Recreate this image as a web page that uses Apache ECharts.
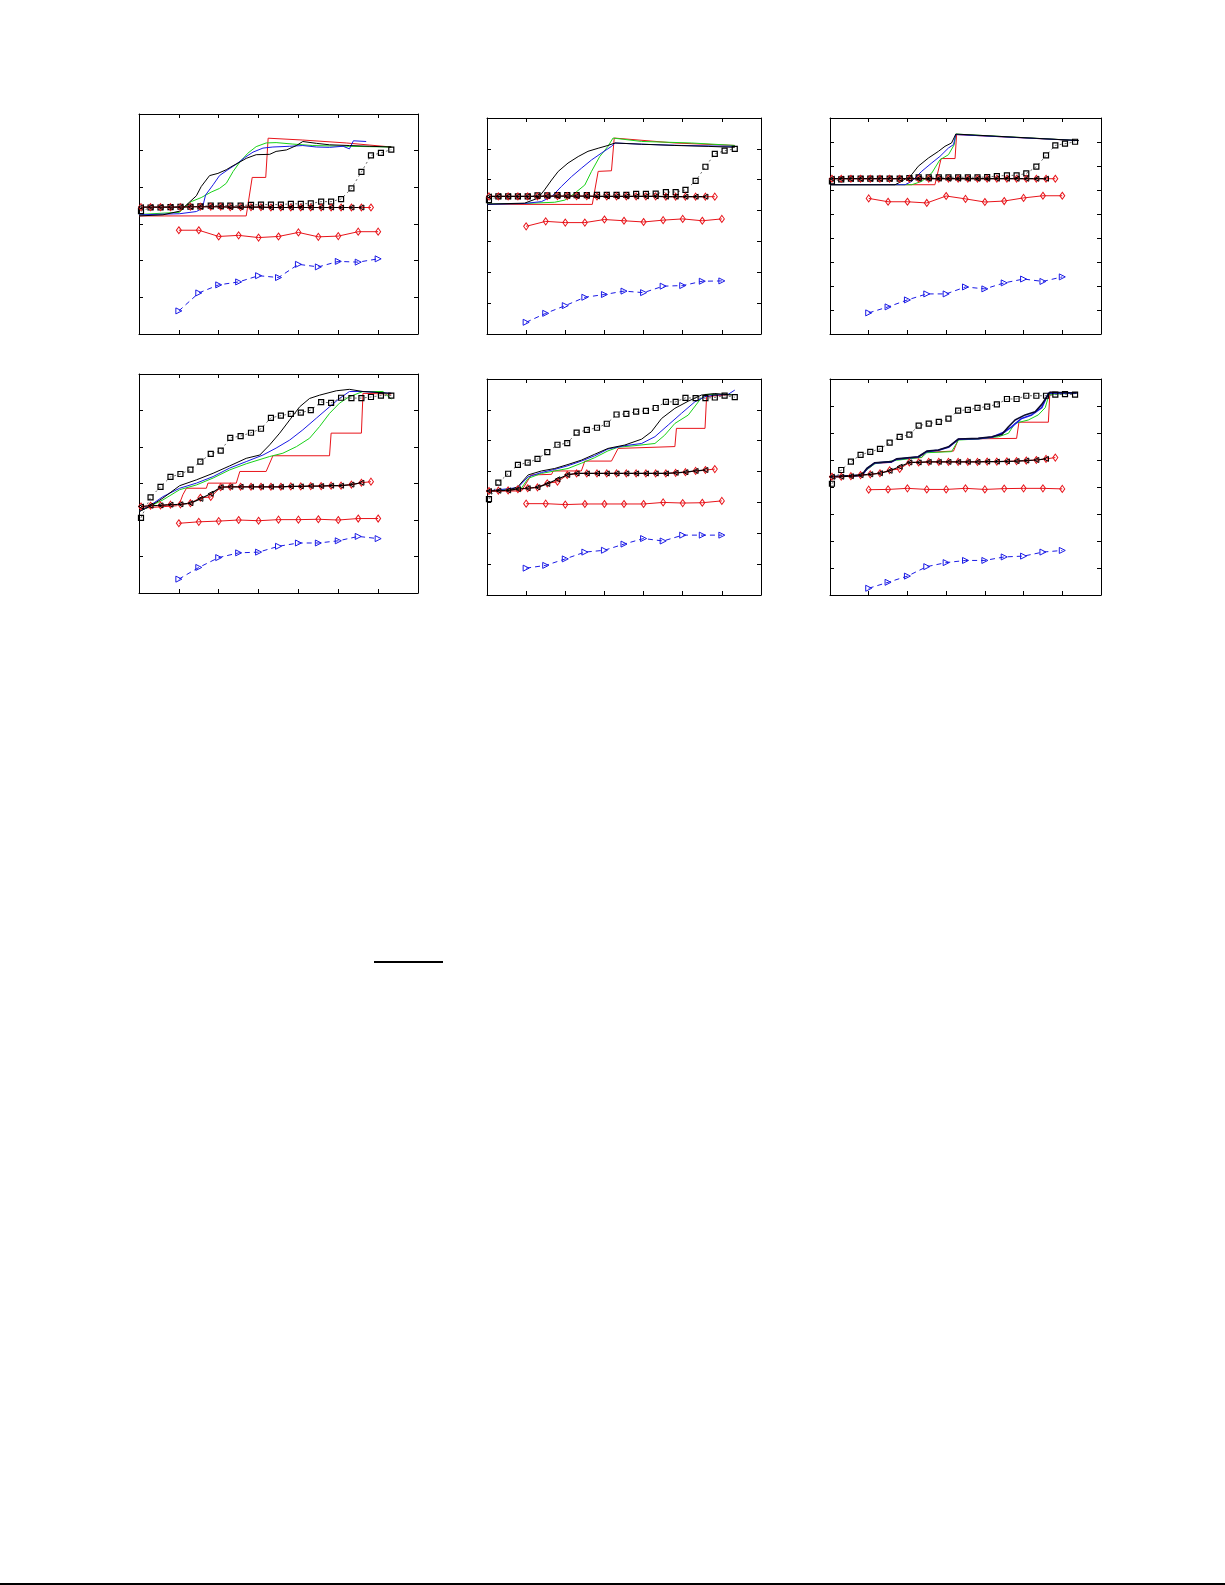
<!DOCTYPE html>
<html>
<head>
<meta charset="utf-8">
<script src="https://cdn.jsdelivr.net/npm/echarts@6/dist/echarts.min.js"></script>
<style>
html,body{margin:0;padding:0;background:#fff;}
#chart{width:1225px;height:1585px;}
</style>
</head>
<body>
<div id="chart"></div>
<script>
// ---------- shared x positions ----------
const halfX = [1, 1.5, 2, 2.5, 3, 3.5, 4, 4.5, 5, 5.5, 6];
const markerX = [0.05, 0.29, 0.54, 0.79, 1.04, 1.29, 1.54, 1.8, 2.05, 2.29, 2.55, 2.81, 3.06, 3.31, 3.56, 3.81, 4.06, 4.31, 4.57, 4.82, 5.07, 5.33, 5.58, 5.82, 6.07, 6.33];
const yMax = [6, 7, 9, 6, 7, 8];

// ---------- panel 1 ----------
const p1BlueTri = [0.63, 1.12, 1.34, 1.42, 1.59, 1.54, 1.90, 1.83, 1.98, 1.96, 2.05];
const p1RedDiaLow = [2.83, 2.83, 2.66, 2.69, 2.63, 2.66, 2.77, 2.65, 2.67, 2.79, 2.79];
const p1RedDiaUp = [3.46, 3.46, 3.46, 3.46, 3.46, 3.47, 3.47, 3.47, 3.47, 3.46, 3.46, 3.46, 3.46, 3.45, 3.45, 3.45, 3.45, 3.45, 3.45, 3.45, 3.45, 3.45, 3.45, 3.45];
const p1BlackTri = [3.46, 3.46, 3.46, 3.46, 3.46, 3.47, 3.47, 3.47, 3.47, 3.46, 3.46, 3.46, 3.46, 3.45, 3.45, 3.45, 3.45, 3.45, 3.45, 3.45, 3.45, 3.45, 3.45];
const p1Squares = [3.35, 3.45, 3.45, 3.46, 3.47, 3.47, 3.48, 3.50, 3.50, 3.50, 3.50, 3.52, 3.53, 3.53, 3.53, 3.55, 3.55, 3.56, 3.61, 3.61, 3.68, 3.97, 4.42, 4.87, 4.94, 5.03];
const p1Black = [[0,3.22],[0.6,3.25],[1.02,3.35],[1.23,3.56],[1.44,3.77],[1.56,4.02],[1.77,4.32],[1.98,4.38],[2.19,4.48],[2.36,4.59],[2.53,4.69],[2.69,4.79],[2.94,4.89],[3.28,4.90],[3.44,4.98],[3.70,5.02],[3.95,5.14],[4.11,5.25],[4.45,5.20],[4.78,5.16],[5.28,5.14],[5.79,5.12],[6.33,5.10]];
const p1Blue = [[0,3.25],[1.02,3.28],[1.44,3.34],[1.59,3.43],[1.67,3.79],[1.86,4.07],[2.02,4.32],[2.23,4.48],[2.44,4.63],[2.65,4.81],[2.86,4.96],[3.11,5.07],[3.36,5.10],[3.78,5.12],[4.11,5.14],[4.45,5.10],[4.78,5.09],[5.12,5.12],[5.28,5.05],[5.38,5.27],[5.70,5.25]];
const p1Green = [[0,3.26],[1.02,3.32],[1.15,3.47],[1.31,3.61],[1.56,3.72],[1.81,3.87],[2.02,3.97],[2.19,4.11],[2.36,4.43],[2.53,4.69],[2.73,4.93],[2.94,5.11],[3.19,5.21],[3.44,5.22],[3.86,5.18],[4.36,5.14],[5.20,5.12],[6.33,5.10]];
const p1Red = [[0,3.22],[2.69,3.22],[2.84,4.27],[3.18,4.27],[3.24,5.34],[4.11,5.29],[5.20,5.21],[6.33,5.10]];

// ---------- panel 2 ----------
const p2BlueTri = [0.38, 0.67, 0.92, 1.19, 1.28, 1.39, 1.34, 1.55, 1.57, 1.71, 1.72];
const p2RedDiaLow = [3.49, 3.65, 3.61, 3.61, 3.71, 3.67, 3.63, 3.69, 3.73, 3.67, 3.73];
const p2RedDiaUp = [4.46, 4.46, 4.46, 4.46, 4.46, 4.46, 4.47, 4.47, 4.47, 4.47, 4.47, 4.46, 4.46, 4.46, 4.46, 4.46, 4.46, 4.46, 4.45, 4.45, 4.45, 4.45, 4.45, 4.45];
const p2BlackTri = [4.46, 4.46, 4.46, 4.46, 4.46, 4.46, 4.47, 4.47, 4.47, 4.47, 4.47, 4.46, 4.46, 4.46, 4.46, 4.46, 4.46, 4.46, 4.45, 4.45, 4.45, 4.45, 4.45];
const p2Squares = [4.34, 4.46, 4.46, 4.46, 4.46, 4.49, 4.49, 4.50, 4.50, 4.50, 4.50, 4.51, 4.51, 4.51, 4.51, 4.54, 4.54, 4.55, 4.60, 4.60, 4.67, 4.96, 5.42, 5.84, 5.94, 6.00];
const p2Black = [[0,4.21],[0.96,4.24],[1.30,4.40],[1.47,4.67],[1.65,4.99],[1.82,5.27],[2.07,5.54],[2.33,5.75],[2.58,5.92],[2.84,6.02],[3.09,6.11],[3.27,6.19],[3.95,6.15],[4.80,6.11],[5.65,6.08],[6.33,6.05]];
const p2Blue = [[0,4.20],[0.96,4.23],[1.39,4.29],[1.65,4.45],[1.90,4.78],[2.16,5.10],[2.41,5.37],[2.67,5.64],[2.92,5.86],[3.18,6.08],[3.27,6.19],[3.95,6.15],[4.97,6.11],[6.33,6.08]];
const p2Green = [[0,4.21],[0.96,4.23],[1.73,4.27],[1.99,4.34],[2.24,4.56],[2.50,4.83],[2.67,5.27],[2.88,5.75],[3.09,6.08],[3.22,6.35],[3.95,6.24],[5.23,6.19],[6.33,6.11]];
const p2Red = [[0,4.20],[2.69,4.20],[2.84,5.27],[3.18,5.29],[3.25,6.35],[4.80,6.19],[6.33,6.11]];

// ---------- panel 3 ----------
const p3BlueTri = [0.88, 1.13, 1.42, 1.67, 1.67, 1.96, 1.88, 2.13, 2.29, 2.19, 2.38];
const p3RedDiaLow = [5.65, 5.51, 5.51, 5.46, 5.75, 5.63, 5.50, 5.54, 5.67, 5.76, 5.76];
const p3RedDiaUp = [6.47, 6.47, 6.47, 6.47, 6.47, 6.47, 6.47, 6.47, 6.47, 6.47, 6.47, 6.47, 6.47, 6.47, 6.47, 6.47, 6.47, 6.47, 6.47, 6.47, 6.47, 6.47, 6.47, 6.47];
const p3BlackTri = [6.47, 6.47, 6.47, 6.47, 6.47, 6.47, 6.47, 6.47, 6.47, 6.47, 6.47, 6.47, 6.47, 6.47, 6.47, 6.47, 6.47, 6.47, 6.47, 6.47, 6.47, 6.47, 6.47];
const p3Squares = [6.36, 6.44, 6.47, 6.47, 6.47, 6.47, 6.47, 6.47, 6.50, 6.53, 6.53, 6.53, 6.53, 6.53, 6.53, 6.53, 6.54, 6.58, 6.61, 6.61, 6.69, 6.97, 7.44, 7.86, 7.93, 8.01];
const p3Black = [[0,6.22],[1.68,6.22],[1.85,6.36],[2.11,6.64],[2.28,6.99],[2.54,7.33],[2.80,7.61],[2.97,7.82],[3.14,7.96],[3.25,8.33],[6.42,8.06]];
const p3Blue = [[0,6.22],[1.94,6.22],[2.11,6.36],[2.37,6.78],[2.63,7.13],[2.84,7.40],[3.06,7.75],[3.19,7.89],[3.25,8.31],[6.42,8.06]];
const p3Green = [[0,6.22],[2.11,6.22],[2.37,6.36],[2.63,6.71],[2.84,7.26],[3.06,7.47],[3.21,7.89],[3.25,8.33],[6.42,8.06]];
const p3Red = [[0,6.22],[2.71,6.22],[2.87,7.31],[3.23,7.31],[3.27,8.31],[6.42,8.06]];

// ---------- panel 4 ----------
const p4BlueTri = [0.38, 0.70, 0.97, 1.10, 1.12, 1.28, 1.37, 1.37, 1.43, 1.55, 1.49];
const p4RedDiaLow = [1.91, 1.95, 1.97, 2.00, 1.98, 2.01, 2.01, 2.02, 2.00, 2.04, 2.04];
const p4RedDiaUp = [2.37, 2.39, 2.40, 2.42, 2.43, 2.46, 2.61, 2.63, 2.90, 2.91, 2.91, 2.91, 2.91, 2.91, 2.91, 2.92, 2.92, 2.93, 2.93, 2.94, 2.94, 2.97, 3.02, 3.05];
const p4BlackTri = [2.37, 2.39, 2.40, 2.42, 2.43, 2.46, 2.58, 2.72, 2.90, 2.91, 2.91, 2.91, 2.91, 2.91, 2.91, 2.92, 2.92, 2.93, 2.93, 2.94, 2.94, 2.97, 3.02];
const p4Squares = [2.06, 2.62, 2.91, 3.18, 3.26, 3.38, 3.60, 3.81, 3.90, 4.25, 4.30, 4.39, 4.50, 4.80, 4.86, 4.91, 4.94, 5.01, 5.23, 5.21, 5.35, 5.34, 5.34, 5.37, 5.41, 5.41];
const p4Black = [[0,2.23],[0.27,2.37],[0.60,2.60],[1.02,2.94],[1.44,3.10],[1.86,3.28],[2.27,3.48],[2.69,3.69],[3.03,3.78],[3.28,4.06],[3.53,4.38],[3.78,4.74],[4.03,5.10],[4.28,5.33],[4.53,5.42],[4.95,5.54],[5.28,5.58],[5.62,5.52],[6.33,5.47]];
const p4Blue = [[0,2.23],[0.27,2.39],[0.60,2.64],[1.02,2.87],[1.44,3.01],[1.86,3.19],[2.27,3.42],[2.69,3.60],[3.11,3.78],[3.44,3.97],[3.78,4.19],[4.11,4.47],[4.45,4.79],[4.78,5.10],[5.03,5.33],[5.28,5.52],[5.62,5.52],[6.33,5.47]];
const p4Green = [[0,2.23],[0.27,2.37],[0.60,2.55],[1.02,2.83],[1.44,2.96],[1.86,3.15],[2.27,3.37],[2.69,3.54],[3.28,3.74],[3.61,3.83],[3.95,4.01],[4.28,4.24],[4.53,4.56],[4.78,4.92],[5.03,5.20],[5.28,5.38],[5.62,5.52],[6.12,5.52],[6.33,5.31]];
const p4Red = [[0,2.32],[0.94,2.39],[1.02,2.46],[1.10,2.69],[1.19,2.87],[1.69,2.87],[1.73,3.01],[2.44,3.01],[2.53,3.33],[3.19,3.33],[3.36,3.76],[4.78,3.76],[4.82,4.38],[5.58,4.38],[5.62,5.47],[6.33,5.45]];

// ---------- panel 5 ----------
const p5BlueTri = [0.87, 0.96, 1.17, 1.39, 1.45, 1.65, 1.83, 1.75, 1.94, 1.94, 1.94];
const p5RedDiaLow = [2.96, 2.96, 2.93, 2.95, 2.95, 2.95, 2.95, 3.00, 2.98, 2.99, 3.05];
const p5RedDiaUp = [3.37, 3.38, 3.39, 3.43, 3.46, 3.49, 3.62, 3.67, 3.89, 3.94, 3.94, 3.94, 3.94, 3.94, 3.94, 3.94, 3.94, 3.94, 3.94, 3.96, 3.98, 4.02, 4.05, 4.08];
const p5BlackTri = [3.37, 3.38, 3.39, 3.43, 3.46, 3.49, 3.60, 3.75, 3.89, 3.94, 3.94, 3.94, 3.94, 3.94, 3.94, 3.94, 3.94, 3.94, 3.94, 3.96, 3.98, 4.02, 4.05];
const p5Squares = [3.11, 3.64, 3.93, 4.22, 4.29, 4.41, 4.63, 4.87, 4.92, 5.26, 5.35, 5.42, 5.55, 5.85, 5.87, 5.94, 5.97, 6.06, 6.26, 6.26, 6.39, 6.38, 6.38, 6.40, 6.46, 6.41];
const p5Black = [[0,3.37],[0.54,3.39],[0.79,3.51],[1.05,3.89],[1.39,4.02],[1.73,4.10],[2.07,4.23],[2.41,4.37],[2.75,4.56],[3.09,4.75],[3.52,4.86],[3.95,5.05],[4.20,5.29],[4.46,5.72],[4.80,6.05],[5.14,6.28],[5.48,6.48],[5.82,6.53],[6.25,6.48]];
const p5Blue = [[0,3.37],[0.79,3.48],[1.05,3.83],[1.39,3.97],[1.73,4.07],[2.07,4.19],[2.41,4.34],[2.75,4.51],[3.09,4.73],[3.52,4.84],[3.95,4.91],[4.29,5.13],[4.63,5.51],[4.97,5.89],[5.31,6.26],[5.57,6.43],[5.82,6.48],[6.16,6.50],[6.33,6.64]];
const p5Green = [[0,3.37],[0.88,3.46],[1.05,3.78],[1.39,3.94],[1.73,4.02],[2.07,4.10],[2.41,4.27],[2.75,4.45],[3.09,4.67],[3.35,4.79],[3.78,4.84],[4.29,4.91],[4.54,5.18],[4.80,5.56],[5.14,5.83],[5.40,6.26],[5.57,6.50],[6.25,6.50]];
const p5Red = [[0,3.37],[0.88,3.37],[1.13,3.89],[1.65,3.91],[1.69,4.02],[2.41,4.02],[2.50,4.34],[3.18,4.34],[3.35,4.75],[4.80,4.81],[4.84,5.40],[5.57,5.40],[5.61,6.43],[6.25,6.50]];

// ---------- panel 6 ----------
const p6BlueTri = [0.25, 0.47, 0.70, 1.05, 1.20, 1.28, 1.28, 1.41, 1.44, 1.59, 1.65];
const p6RedDiaLow = [3.90, 3.91, 3.95, 3.91, 3.91, 3.95, 3.91, 3.94, 3.95, 3.95, 3.93];
const p6RedDiaUp = [4.38, 4.38, 4.40, 4.44, 4.47, 4.51, 4.62, 4.67, 4.91, 4.91, 4.93, 4.93, 4.93, 4.93, 4.93, 4.93, 4.94, 4.94, 4.95, 4.96, 4.98, 5.00, 5.04, 5.09];
const p6BlackTri = [4.38, 4.38, 4.40, 4.44, 4.47, 4.51, 4.60, 4.75, 4.91, 4.91, 4.93, 4.93, 4.93, 4.93, 4.93, 4.93, 4.94, 4.94, 4.95, 4.96, 4.98, 5.00, 5.04];
const p6Squares = [4.12, 4.63, 4.94, 5.19, 5.30, 5.41, 5.64, 5.86, 5.94, 6.27, 6.35, 6.41, 6.53, 6.83, 6.86, 6.93, 6.98, 7.06, 7.26, 7.26, 7.38, 7.38, 7.38, 7.42, 7.44, 7.42];
const p6Black = [[0,4.38],[0.82,4.44],[0.95,4.69],[1.16,4.90],[1.59,4.94],[1.72,5.04],[2.28,5.12],[2.50,5.33],[2.80,5.37],[3.06,5.49],[3.32,5.78],[3.83,5.80],[4.18,5.86],[4.44,5.95],[4.61,6.23],[4.78,6.48],[5.04,6.67],[5.30,6.79],[5.47,7.06],[5.68,7.51],[6.37,7.48]];
const p6Blue = [[0,4.38],[0.82,4.43],[0.95,4.67],[1.16,4.89],[1.59,4.93],[1.72,5.03],[2.28,5.11],[2.50,5.31],[2.80,5.36],[3.06,5.47],[3.32,5.77],[3.83,5.79],[4.18,5.84],[4.52,6.05],[4.69,6.23],[4.95,6.54],[5.21,6.67],[5.47,6.94],[5.64,7.47],[6.37,7.48]];
const p6Green = [[0,4.38],[0.82,4.42],[0.95,4.64],[1.16,4.86],[1.72,4.99],[2.37,5.10],[2.50,5.27],[3.14,5.31],[3.32,5.74],[3.83,5.78],[4.35,5.86],[4.61,5.99],[4.78,6.36],[5.12,6.48],[5.38,6.67],[5.56,6.94],[5.66,7.43],[6.37,7.48]];
const p6Red = [[0,4.38],[0.82,4.41],[0.95,4.63],[1.16,4.88],[1.59,4.91],[1.68,5.02],[2.37,5.09],[2.45,5.28],[3.19,5.33],[3.32,5.78],[4.82,5.80],[4.88,6.40],[5.64,6.40],[5.68,7.51],[6.37,7.48]];

const panels = [
  {blueTri:p1BlueTri, redLow:p1RedDiaLow, redUp:p1RedDiaUp, blackTri:p1BlackTri, squares:p1Squares, black:p1Black, blue:p1Blue, green:p1Green, red:p1Red},
  {blueTri:p2BlueTri, redLow:p2RedDiaLow, redUp:p2RedDiaUp, blackTri:p2BlackTri, squares:p2Squares, black:p2Black, blue:p2Blue, green:p2Green, red:p2Red},
  {blueTri:p3BlueTri, redLow:p3RedDiaLow, redUp:p3RedDiaUp, blackTri:p3BlackTri, squares:p3Squares, black:p3Black, blue:p3Blue, green:p3Green, red:p3Red},
  {blueTri:p4BlueTri, redLow:p4RedDiaLow, redUp:p4RedDiaUp, blackTri:p4BlackTri, squares:p4Squares, black:p4Black, blue:p4Blue, green:p4Green, red:p4Red},
  {blueTri:p5BlueTri, redLow:p5RedDiaLow, redUp:p5RedDiaUp, blackTri:p5BlackTri, squares:p5Squares, black:p5Black, blue:p5Blue, green:p5Green, red:p5Red},
  {blueTri:p6BlueTri, redLow:p6RedDiaLow, redUp:p6RedDiaUp, blackTri:p6BlackTri, squares:p6Squares, black:p6Black, blue:p6Blue, green:p6Green, red:p6Red}
];

// ---------- layout (pixels) ----------
const gridBoxes = [
  {left:139, top:114, width:279, height:220},
  {left:487, top:118, width:274, height:216},
  {left:830, top:118, width:271, height:216},
  {left:139, top:374, width:279, height:219},
  {left:487, top:379, width:274, height:216},
  {left:830, top:379, width:271, height:216}
];

const RED = '#e8141a', BLUE = '#1a1ae6', GREEN = '#19d219', BLACK = '#000000';

function zip(xs, ys) { return ys.map((y, i) => [xs[i], y]); }

const grid = [], xAxis = [], yAxis = [], series = [];
const axisCommon = {
  axisLine: {show: true, onZero: false, lineStyle: {color: '#000', width: 1}},
  axisTick: {show: true, inside: true, length: 4, lineStyle: {color: '#000', width: 1}},
  axisLabel: {show: false},
  splitLine: {show: false}
};

panels.forEach((p, i) => {
  grid.push(Object.assign({containLabel: false}, gridBoxes[i]));
  xAxis.push(Object.assign({type: 'value', gridIndex: i, min: 0, max: 7, interval: 1, position: 'bottom'}, axisCommon));
  xAxis.push(Object.assign({type: 'value', gridIndex: i, min: 0, max: 7, interval: 1, position: 'top'}, axisCommon));
  yAxis.push(Object.assign({type: 'value', gridIndex: i, min: 0, max: yMax[i], interval: 1, position: 'left'}, axisCommon));
  yAxis.push(Object.assign({type: 'value', gridIndex: i, min: 0, max: yMax[i], interval: 1, position: 'right'}, axisCommon));
  const xi = 2 * i, yi = 2 * i;
  const base = {type: 'line', xAxisIndex: xi, yAxisIndex: yi, animation: false, silent: true};
  const thick = i === 5 ? 1.6 : 1;
  // continuous curves
  series.push(Object.assign({}, base, {data: p.red, showSymbol: false, symbol: 'none', lineStyle: {color: RED, width: 1}}));
  series.push(Object.assign({}, base, {data: p.green, showSymbol: false, symbol: 'none', lineStyle: {color: GREEN, width: 1}}));
  series.push(Object.assign({}, base, {data: p.blue, showSymbol: false, symbol: 'none', lineStyle: {color: BLUE, width: thick}}));
  series.push(Object.assign({}, base, {data: p.black, showSymbol: false, symbol: 'none', lineStyle: {color: i === 5 ? '#0a0a30' : BLACK, width: thick}}));
  // marker series
  series.push(Object.assign({}, base, {data: zip(markerX, p.squares), symbol: 'rect', symbolSize: 5,
    lineStyle: {color: '#444', width: 0.8, type: [2, 3]}, itemStyle: {color: 'rgba(0,0,0,0)', borderColor: BLACK, borderWidth: 1.2}}));
  series.push(Object.assign({}, base, {data: zip(markerX, p.redUp), symbol: 'diamond', symbolSize: [5, 7],
    lineStyle: {color: RED, width: 1}, itemStyle: {color: 'rgba(0,0,0,0)', borderColor: RED, borderWidth: 1}}));
  series.push(Object.assign({}, base, {data: zip(markerX, p.blackTri), symbol: 'triangle', symbolRotate: 90, symbolSize: 5,
    lineStyle: {color: BLACK, width: 1.2}, itemStyle: {color: 'rgba(0,0,0,0)', borderColor: BLACK, borderWidth: 1}}));
  series.push(Object.assign({}, base, {data: zip(halfX, p.redLow), symbol: 'diamond', symbolSize: [5, 7],
    lineStyle: {color: RED, width: 1}, itemStyle: {color: 'rgba(0,0,0,0)', borderColor: RED, borderWidth: 1}}));
  series.push(Object.assign({}, base, {data: zip(halfX, p.blueTri), symbol: 'triangle', symbolRotate: -90, symbolSize: 6,
    lineStyle: {color: BLUE, width: 1, type: [5, 4]}, itemStyle: {color: 'rgba(0,0,0,0)', borderColor: BLUE, borderWidth: 1}}));
});

const chart = echarts.init(document.getElementById('chart'), null, {renderer: 'canvas'});
chart.setOption({
  backgroundColor: '#ffffff',
  animation: false,
  grid: grid,
  xAxis: xAxis,
  yAxis: yAxis,
  series: series,
  graphic: [
    {type: 'line', shape: {x1: 374, y1: 962, x2: 443, y2: 962}, style: {stroke: '#000', lineWidth: 1.8}},
    {type: 'line', shape: {x1: 0, y1: 1584, x2: 1225, y2: 1584}, style: {stroke: '#000', lineWidth: 2}}
  ]
});
</script>
</body>
</html>
